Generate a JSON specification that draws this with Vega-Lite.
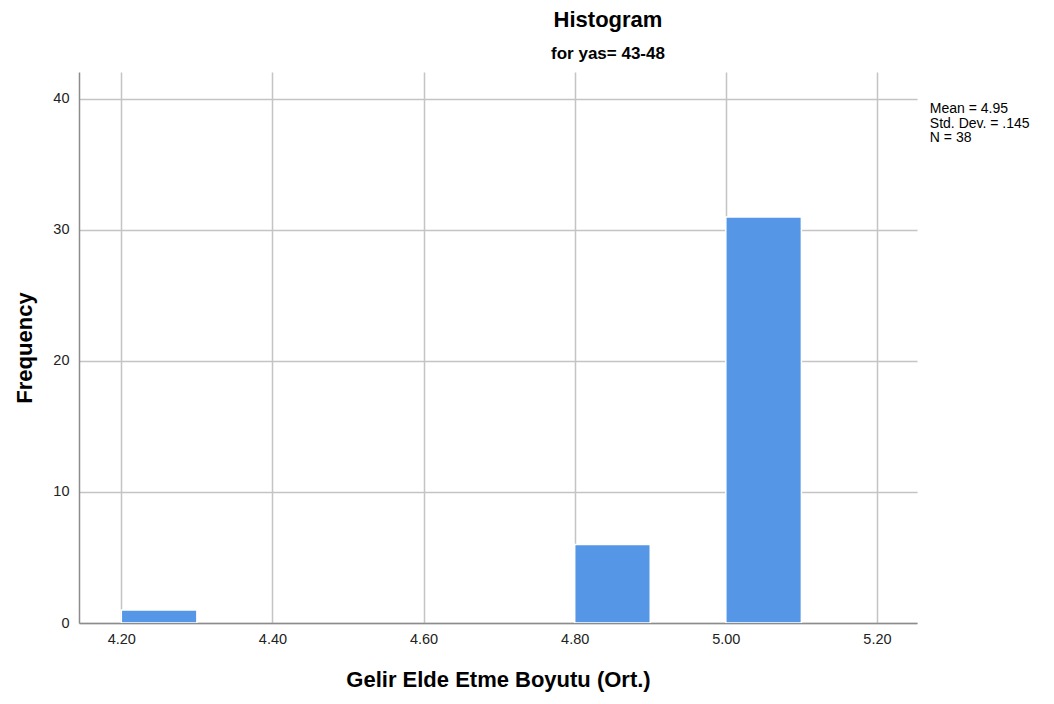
{
  "$schema": "https://vega.github.io/schema/vega-lite/v6.json",
  "width": 838,
  "height": 551,
  "autosize": {"type": "none"},
  "padding": {"left": 79, "top": 72, "right": 137, "bottom": 81},
  "background": "white",
  "config": {
    "view": {"stroke": null},
    "font": "Liberation Sans"
  },
  "title": {
    "text": "Histogram",
    "subtitle": "for yas= 43-48",
    "anchor": "middle",
    "dx": 110,
    "offset": 9,
    "fontSize": 22,
    "fontWeight": "bold",
    "font": "Liberation Sans",
    "color": "#000000",
    "subtitleFontSize": 17,
    "subtitleFontWeight": "bold",
    "subtitleFont": "Liberation Sans",
    "subtitleColor": "#000000",
    "subtitlePadding": 14
  },
  "data": {
    "values": [
      {"bin_start": 4.2, "bin_end": 4.3, "count": 1},
      {"bin_start": 4.8, "bin_end": 4.9, "count": 6},
      {"bin_start": 5.0, "bin_end": 5.1, "count": 31}
    ]
  },
  "layer": [
    {
      "mark": {"type": "bar", "color": "#5596E6", "stroke": "#ffffff", "strokeWidth": 1.5, "clip": true},
      "encoding": {
        "x": {
          "field": "bin_start",
          "type": "quantitative",
          "scale": {"domain": [4.144, 5.253], "nice": false, "zero": false, "padding": 0},
          "axis": {
            "title": "Gelir Elde Etme Boyutu (Ort.)",
            "values": [4.2, 4.4, 4.6, 4.8, 5.0, 5.2],
            "format": ".2f",
            "ticks": false,
            "labelPadding": 9,
            "labelFontSize": 14.5,
            "labelColor": "#222222",
            "labelFont": "Liberation Sans",
            "grid": true,
            "gridColor": "#c4c4c4",
            "gridWidth": 1.5,
            "domainColor": "#8c8c8c",
            "domainWidth": 1.5,
            "titleFontSize": 22,
            "titleFontWeight": "bold",
            "titleColor": "#000000",
            "titleFont": "Liberation Sans",
            "titlePadding": 24
          }
        },
        "x2": {"field": "bin_end"},
        "y": {
          "field": "count",
          "type": "quantitative",
          "scale": {"domain": [0, 42.06], "nice": false, "padding": 0},
          "axis": {
            "title": "Frequency",
            "values": [0, 10, 20, 30, 40],
            "ticks": false,
            "labelPadding": 10,
            "labelFontSize": 14.5,
            "labelColor": "#222222",
            "grid": true,
            "gridColor": "#c4c4c4",
            "gridWidth": 1.5,
            "domainColor": "#8c8c8c",
            "domainWidth": 1.5,
            "titleFontSize": 22,
            "titleFontWeight": "bold",
            "titleColor": "#000000",
            "titlePadding": 16
          }
        },
        "y2": {"datum": 0}
      }
    },
    {
      "data": {"values": [{"label": ["Mean = 4.95", "Std. Dev. = .145", "N = 38"], "xv": 5.27, "yv": 39.75}]},
      "mark": {"type": "text", "align": "left", "baseline": "top", "fontSize": 14, "lineHeight": 14.5, "color": "#000000", "clip": false},
      "encoding": {
        "x": {"field": "xv", "type": "quantitative"},
        "y": {"field": "yv", "type": "quantitative"},
        "text": {"field": "label"}
      }
    }
  ]
}
